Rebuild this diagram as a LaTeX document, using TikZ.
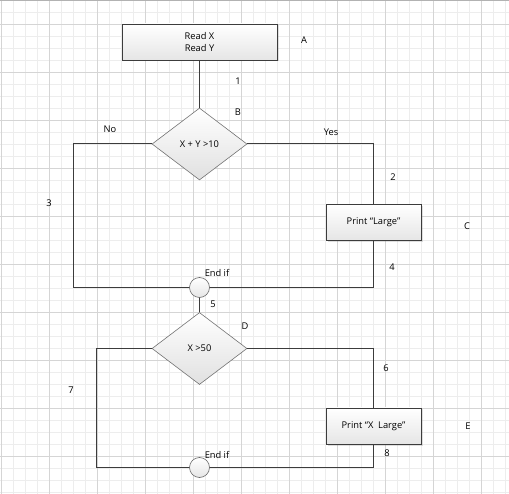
\documentclass[tikz,border=0pt]{standalone}
\usepackage{fontspec}
\setmainfont{Open Sans}
\usepackage{xcolor}
\usetikzlibrary{shapes.geometric,shadows}
\definecolor{gridminor}{HTML}{EDEDED}
\definecolor{gridmajor}{HTML}{D5D5D5}
\definecolor{linecol}{HTML}{3C3C3C}

\begin{document}
\begin{tikzpicture}[x=1pt,y=-1pt,
    font=\fontsize{9.3}{12}\selectfont,
    process/.style={draw=linecol, line width=0.9pt, top color=white, bottom color=black!10,
      minimum height=36pt, inner sep=0pt, align=center,
      drop shadow={shadow xshift=1.5pt, shadow yshift=-1.5pt, opacity=0.25}},
    decision/.style={diamond, draw=black!55, line width=0.6pt, top color=white, bottom color=black!12,
      minimum width=95pt, minimum height=72pt, inner sep=0pt, aspect=1.32},
    merge/.style={circle, draw=black!60, line width=0.6pt, top color=white, bottom color=black!10,
      minimum size=20pt, inner sep=0pt},
    flow/.style={draw=linecol, line width=1pt},
    tag/.style={inner sep=1pt}]
    \useasboundingbox (0,0) rectangle (509,494);
    % grid
    \foreach \x in {1,13,...,505} \draw[gridminor, line width=0.6pt] (\x,0) -- (\x,494);
    \foreach \y in {0,12,...,492} \draw[gridminor, line width=0.6pt] (0,\y) -- (509,\y);
    \foreach \x in {1,49,...,481} \draw[gridmajor, line width=0.6pt] (\x,0) -- (\x,494);
    \foreach \y in {24,72,...,456} \draw[gridmajor, line width=0.6pt] (0,\y) -- (509,\y);
    \draw[black!30, line width=0.8pt] (0,0.5) -- (509,0.5);

    % shapes
    \node[process, minimum width=155pt] (readXY) at (199.5,42) {Read X\\Read Y};
    \node[decision] (cond1) at (199.5,144) {X + Y >10};
    \node[process, minimum width=95pt] (printL) at (373.5,222.5) {Print “Large”};
    \node[merge] (endif1) at (199.5,287.5) {};
    \node[decision] (cond2) at (199.5,348.5) {X >50};
    \node[process, minimum width=95pt] (printXL) at (373.5,426) {Print “X\ \ Large”};
    \node[merge] (endif2) at (199.5,467.5) {};

    % connectors
    \draw[flow] (readXY.south) -- (cond1.north);
    \draw[flow] (cond1.west) -- ++(-78.5,0) |- (endif1.west);
    \draw[flow] (cond1.east) -| (printL.north);
    \draw[flow] (printL.south) |- (endif1.east);
    \draw[flow] (endif1.south) -- (cond2.north);
    \draw[flow] (cond2.west) -- ++(-55.5,0) |- (endif2.west);
    \draw[flow] (cond2.east) -| (printXL.north);
    \draw[flow] (printXL.south) |- (endif2.east);

    % labels
    \node[tag] (lblA) at (304,40) {A};
    \node[tag] (lbl1) at (238,81) {1};
    \node[tag] (lblB) at (238,112) {B};
    \node[tag] (lblNo) at (110,129) {No};
    \node[tag] (lblYes) at (331,132) {Yes};
    \node[tag] (lbl2) at (393,177) {2};
    \node[tag] (lblC) at (467,226) {C};
    \node[tag] (lbl3) at (49,203) {3};
    \node[tag] (lbl4) at (392,267) {4};
    \node[tag] (lblEnd1) at (217,273) {End if};
    \node[tag] (lbl5) at (213,304) {5};
    \node[tag] (lblD) at (245,326) {D};
    \node[tag] (lbl6) at (386,368) {6};
    \node[tag] (lbl7) at (71,390) {7};
    \node[tag] (lblE) at (468,426) {E};
    \node[tag] (lblEnd2) at (217,455) {End if};
    \node[tag] (lbl8) at (387,453) {8};
\end{tikzpicture}
\end{document}
